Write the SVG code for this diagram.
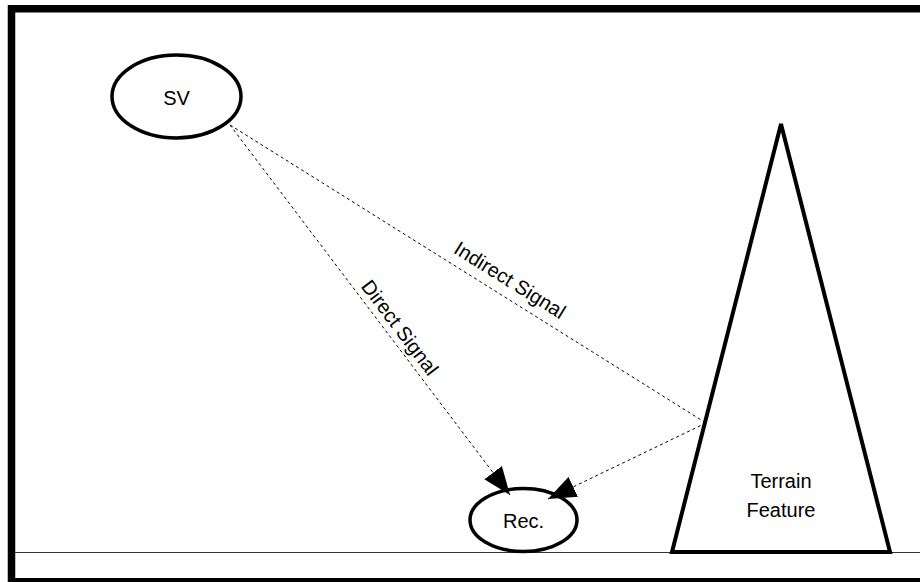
<svg xmlns="http://www.w3.org/2000/svg" width="920" height="582" viewBox="0 0 920 582">
  <style>
    .frame { fill: none; stroke: #000; stroke-width: 7.5; }
    .ground { stroke: #333; stroke-width: 1; }
    .node { fill: #fff; stroke: #000; stroke-width: 3.5; }
    .terrain { fill: #fff; stroke: #000; stroke-width: 4; stroke-linejoin: miter; }
    .label { font-family: "Liberation Sans", Arial, sans-serif; font-size: 20px; fill: #000; text-anchor: middle; }
    .signal { fill: none; stroke: #000; stroke-width: 1; stroke-dasharray: 3 3; }
  </style>
  <defs>
    <marker id="arrow" markerUnits="userSpaceOnUse" markerWidth="28" markerHeight="22" refX="28" refY="11" orient="auto">
      <path d="M0,0 L28,11 L0,22 z" fill="#000"/>
    </marker>
  </defs>

  <rect width="920" height="582" fill="#fff"/>
  <!-- outer frame, right side runs past the canvas -->
  <rect class="frame" x="11.5" y="8.75" width="930" height="573"/>
  <!-- ground line -->
  <line class="ground" x1="15" y1="552.5" x2="920" y2="552.5"/>

  <g id="terrain">
    <polygon class="terrain" points="781,124 890,552 672,552"/>
    <text class="label" x="781" y="488">Terrain</text>
    <text class="label" x="781" y="516.5">Feature</text>
  </g>

  <g id="sv">
    <ellipse class="node" cx="176.5" cy="96.5" rx="64.5" ry="41.5"/>
    <text class="label" x="176.5" y="105">SV</text>
  </g>

  <g id="rec">
    <ellipse class="node" cx="523.5" cy="520" rx="53.5" ry="31.5"/>
    <text class="label" x="523.5" y="528">Rec.</text>
  </g>

  <g id="connectors">
    <line class="signal" x1="230" y1="125" x2="510" y2="495" marker-end="url(#arrow)"/>
    <line class="signal" x1="230" y1="125" x2="706" y2="423"/>
    <line class="signal" x1="706" y1="423" x2="548" y2="499" marker-end="url(#arrow)"/>
    <text class="label" transform="translate(400,327.5) rotate(53)" x="0" y="7">Direct Signal</text>
    <text class="label" transform="translate(510,280) rotate(32)" x="0" y="7">Indirect Signal</text>
  </g>
</svg>
